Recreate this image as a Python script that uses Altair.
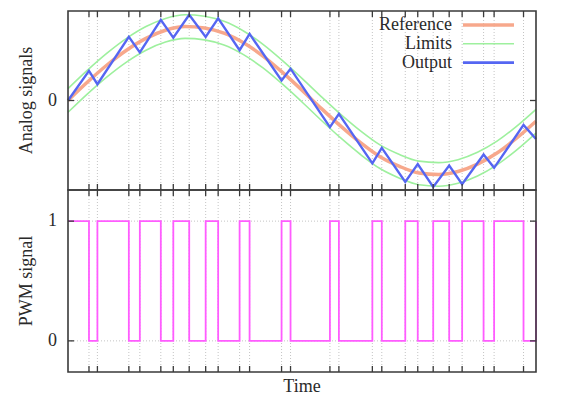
import altair as alt
import pandas as pd

# ---- data ----
switch_t = [0.269, 0.377, 0.780, 0.921, 1.190, 1.350, 1.554, 1.765, 1.925, 2.200,
            2.328, 2.738, 2.853, 3.358, 3.473, 3.902, 4.023, 4.324, 4.484, 4.682,
            4.887, 5.053, 5.328, 5.463, 5.840]

output_t = [0.0] + switch_t + [6.0]
output_v = [0.00, 0.40, 0.22, 0.86, 0.65, 1.09, 0.85, 1.16, 0.86, 1.11,
            0.68, 0.90, 0.27, 0.43, -0.36, -0.18, -0.85, -0.64, -1.10, -0.86,
            -1.17, -0.88, -1.13, -0.73, -0.91, -0.33, -0.52]

pwm_t = [0.0] + switch_t + [6.0]
pwm_v = [1, 0, 1, 0, 1, 0, 1, 0, 1, 0, 1, 0, 1, 0, 1, 0, 1, 0, 1, 0, 1, 0, 1, 0, 1, 0, 1]

ref_t = [0.0, 0.25, 0.5, 0.75, 1.0, 1.25, 1.5, 1.75, 2.0, 2.25, 2.5, 2.75, 3.0,
         3.25, 3.5, 3.75, 4.0, 4.25, 4.5, 4.75, 5.0, 5.25, 5.5, 5.75, 6.0]
ref_v = [0.00, 0.25, 0.48, 0.68, 0.84, 0.95, 1.00, 0.98, 0.91, 0.78, 0.60, 0.38, 0.14,
         -0.11, -0.35, -0.57, -0.76, -0.89, -0.98, -1.00, -0.96, -0.86, -0.71, -0.51, -0.28]
upper_v = [0.16, 0.41, 0.64, 0.84, 1.00, 1.11, 1.16, 1.14, 1.07, 0.94, 0.76, 0.54, 0.30,
           0.05, -0.19, -0.41, -0.60, -0.73, -0.82, -0.84, -0.80, -0.70, -0.55, -0.35, -0.12]
lower_v = [-0.16, 0.09, 0.32, 0.52, 0.68, 0.79, 0.84, 0.82, 0.75, 0.62, 0.44, 0.22, -0.02,
           -0.27, -0.51, -0.73, -0.92, -1.05, -1.14, -1.16, -1.12, -1.02, -0.87, -0.67, -0.44]

legend_labels = ["Reference", "Limits", "Output"]
analog_ticks = [0]
analog_tick_labels = ["0"]
pwm_ticks = [0, 1]
pwm_tick_labels = ["0", "1"]
title_top = "Analog signals"
title_bottom = "PWM signal"
title_x = "Time"

# ---- styles ----
FONT = "Liberation Serif"
FS = 18
TXT = "#2a2a2a"
C_REF = "#f7a88c"
C_LIM = "#9ef09e"
C_OUT = "#5566f2"
C_PWM = "#ff5cff"
C_GRID = "#c4c4c4"
C_FRAME = "#3a3a3a"
W, H1, H2 = 468, 179, 182
TICK = 6

xscale = alt.Scale(domain=[0, 6], nice=False, zero=False)
y1scale = alt.Scale(domain=[-1.21, 1.21], nice=False, zero=False)
y2scale = alt.Scale(domain=[-0.26, 1.26], nice=False, zero=False)

sw = pd.DataFrame({"t": switch_t})
ref_df = pd.DataFrame({"t": ref_t, "ref": ref_v, "up": upper_v, "lo": lower_v})
out_df = pd.DataFrame({"t": output_t, "v": output_v})
pwm_df = pd.DataFrame({"t": pwm_t, "v": pwm_v})
one = pd.DataFrame({"a": [0]})


def X(field="t"):
    return alt.X(f"{field}:Q", scale=xscale, axis=None)


def panel_grid(H, yscale, yticks):
    yt = pd.DataFrame({"y": yticks})
    return [
        alt.Chart(sw).mark_rule(color=C_GRID, strokeDash=[1, 2], strokeWidth=1).encode(
            x=X(), y=alt.value(0), y2=alt.value(H)),
        alt.Chart(yt).mark_rule(color=C_GRID, strokeDash=[1, 2], strokeWidth=1).encode(
            y=alt.Y("y:Q", scale=yscale, axis=None), x=alt.value(0), x2=alt.value(W)),
    ]


def panel_frame(H, yscale, yticks, ylabels, title):
    yt = pd.DataFrame({"y": yticks, "lab": ylabels})
    tk = dict(color=C_FRAME, strokeWidth=1.3)
    return [
        alt.Chart(sw).mark_rule(**tk).encode(x=X(), y=alt.value(0), y2=alt.value(TICK)),
        alt.Chart(sw).mark_rule(**tk).encode(x=X(), y=alt.value(H - TICK), y2=alt.value(H)),
        alt.Chart(yt).mark_rule(**tk).encode(
            y=alt.Y("y:Q", scale=yscale, axis=None), x=alt.value(0), x2=alt.value(TICK)),
        alt.Chart(yt).mark_rule(**tk).encode(
            y=alt.Y("y:Q", scale=yscale, axis=None), x=alt.value(W - TICK), x2=alt.value(W)),
        alt.Chart(one).mark_rect(filled=False, stroke=C_FRAME, strokeWidth=1.6).encode(
            x=alt.value(0), x2=alt.value(W), y=alt.value(0), y2=alt.value(H)),
        # tick labels
        alt.Chart(yt).mark_text(align="right", baseline="middle", font=FONT, fontSize=FS,
                                color=TXT, clip=False).encode(
            y=alt.Y("y:Q", scale=yscale, axis=None), x=alt.value(-11), text="lab:N"),
        # axis title
        alt.Chart(one).mark_text(align="center", baseline="middle", angle=270, font=FONT,
                                 fontSize=FS, color=TXT, clip=False).encode(
            x=alt.value(-41), y=alt.value(H / 2), text=alt.value(title)),
    ]


# ---- top panel ----
# invisible box that fixes the outer extent of the drawing
extent_box = alt.Chart(one).mark_rect(fillOpacity=0, strokeOpacity=0, clip=False).encode(
    x=alt.value(-60), x2=alt.value(W + 10), y=alt.value(-3), y2=alt.value(385))

top_layers = [extent_box] + panel_grid(H1, y1scale, analog_ticks)
top_layers += [
    alt.Chart(ref_df).mark_line(color=C_LIM, strokeWidth=1.6, interpolate="monotone").encode(
        x=X(), y=alt.Y("up:Q", scale=y1scale, axis=None)),
    alt.Chart(ref_df).mark_line(color=C_LIM, strokeWidth=1.6, interpolate="monotone").encode(
        x=X(), y=alt.Y("lo:Q", scale=y1scale, axis=None)),
    alt.Chart(ref_df).mark_line(color=C_REF, strokeWidth=3.5, interpolate="monotone").encode(
        x=X(), y=alt.Y("ref:Q", scale=y1scale, axis=None)),
    alt.Chart(out_df).mark_line(color=C_OUT, strokeWidth=2.4).encode(
        x=X(), y=alt.Y("v:Q", scale=y1scale, axis=None)),
]
leg_colors = [C_REF, C_LIM, C_OUT]
leg_widths = [3.5, 1.6, 2.6]
for i, lab in enumerate(legend_labels):
    yy = 14 + 18.8 * i
    top_layers.append(alt.Chart(one).mark_text(align="right", baseline="middle", font=FONT,
                                               fontSize=FS, color=TXT).encode(
        x=alt.value(384), y=alt.value(yy), text=alt.value(lab)))
    top_layers.append(alt.Chart(one).mark_rule(color=leg_colors[i], strokeWidth=leg_widths[i]).encode(
        x=alt.value(395), x2=alt.value(446), y=alt.value(yy)))
top_layers += panel_frame(H1, y1scale, analog_ticks, analog_tick_labels, title_top)

top = alt.layer(*top_layers).properties(width=W, height=H1)

# ---- bottom panel ----
bot_layers = panel_grid(H2, y2scale, pwm_ticks)
bot_layers += [
    alt.Chart(pwm_df).mark_line(color=C_PWM, strokeWidth=1.8, interpolate="step-after").encode(
        x=X(), y=alt.Y("v:Q", scale=y2scale, axis=None)),
]
bot_layers += panel_frame(H2, y2scale, pwm_ticks, pwm_tick_labels, title_bottom)
bot_layers.append(alt.Chart(one).mark_text(align="center", baseline="alphabetic", font=FONT,
                                           fontSize=FS, color=TXT, clip=False).encode(
    x=alt.value(W / 2), y=alt.value(H2 + 20), text=alt.value(title_x)))
bottom = alt.layer(*bot_layers).properties(width=W, height=H2)

chart = alt.vconcat(top, bottom, spacing=0, bounds="flush").properties(
    background="white",
    padding={"left": 0, "top": 0, "right": 0, "bottom": 0},
).configure_view(stroke=None)

chart.save("out.html", embed_options={"renderer": "svg", "actions": False})
